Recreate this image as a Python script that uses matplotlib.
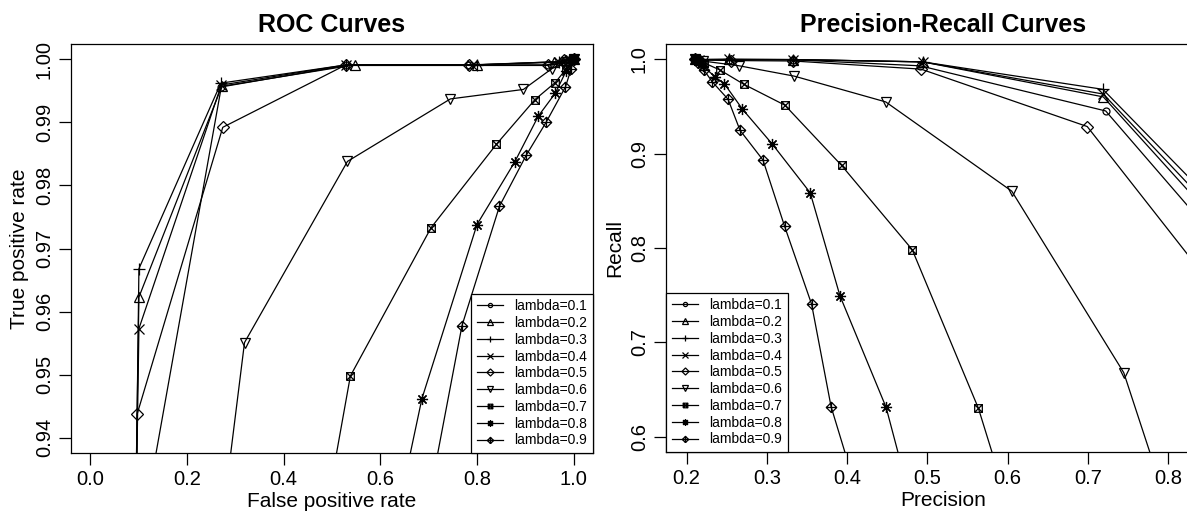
import matplotlib
matplotlib.use("Agg")
import matplotlib.pyplot as plt
from matplotlib.path import Path

plt.rcParams['font.family'] = ['Liberation Sans', 'DejaVu Sans']

labels = ['lambda=0.1', 'lambda=0.2', 'lambda=0.3', 'lambda=0.4', 'lambda=0.5',
          'lambda=0.6', 'lambda=0.7', 'lambda=0.8', 'lambda=0.9']

# ROC: false positive rate / true positive rate per lambda
roc_fpr_1 = [0.095, 0.271, 0.529, 0.784, 0.946, 0.975, 0.990, 1.0]
roc_tpr_1 = [0.920, 0.9956, 0.9990, 0.9990, 0.9990, 0.9995, 0.9998, 1.0]
roc_fpr_2 = [0.092, 0.1005, 0.272, 0.547, 0.800, 0.960, 0.985, 1.0]
roc_tpr_2 = [0.920, 0.9623, 0.9957, 0.9991, 0.9991, 0.9995, 0.9999, 1.0]
roc_fpr_3 = [0.093, 0.1005, 0.270, 0.530, 0.800, 0.970, 0.990, 1.0]
roc_tpr_3 = [0.920, 0.9668, 0.9962, 0.9991, 0.9991, 0.9996, 0.9999, 1.0]
roc_fpr_4 = [0.093, 0.1005, 0.271, 0.530, 0.790, 0.970, 0.990, 1.0]
roc_tpr_4 = [0.920, 0.9573, 0.9959, 0.9991, 0.9991, 0.9996, 0.9999, 1.0]
roc_fpr_5 = [0.093, 0.097, 0.274, 0.529, 0.784, 0.946, 0.980, 1.0]
roc_tpr_5 = [0.920, 0.9438, 0.9892, 0.9991, 0.9991, 0.9991, 0.9998, 1.0]
roc_fpr_6 = [0.270, 0.319, 0.532, 0.745, 0.896, 0.955, 0.985, 1.0]
roc_tpr_6 = [0.925, 0.9551, 0.9838, 0.9937, 0.9952, 0.9985, 0.9995, 1.0]
roc_fpr_7 = [0.480, 0.538, 0.705, 0.840, 0.920, 0.962, 0.985, 1.0]
roc_tpr_7 = [0.925, 0.9498, 0.9733, 0.9865, 0.9936, 0.9963, 0.9985, 1.0]
roc_fpr_8 = [0.630, 0.686, 0.800, 0.878, 0.927, 0.962, 0.985, 1.0]
roc_tpr_8 = [0.926, 0.9462, 0.9738, 0.9837, 0.9910, 0.9946, 0.9982, 1.0]
roc_fpr_9 = [0.700, 0.769, 0.8465, 0.902, 0.943, 0.983, 0.995, 1.0]
roc_tpr_9 = [0.930, 0.9578, 0.9767, 0.9848, 0.9900, 0.9956, 0.9985, 1.0]

# Precision-recall per lambda
pr_prec_1 = [0.2105, 0.215, 0.253, 0.332, 0.491, 0.722, 0.90]
pr_rec_1 = [1.0, 0.9995, 0.9995, 0.9993, 0.9929, 0.9451, 0.77]
pr_prec_2 = [0.2105, 0.215, 0.253, 0.332, 0.494, 0.719, 0.90]
pr_rec_2 = [1.0, 0.9995, 0.9997, 0.9995, 0.9971, 0.960, 0.79]
pr_prec_3 = [0.2105, 0.215, 0.253, 0.332, 0.494, 0.7185, 0.90]
pr_rec_3 = [1.0, 0.9995, 0.9997, 0.9995, 0.9971, 0.968, 0.81]
pr_prec_4 = [0.2105, 0.215, 0.253, 0.332, 0.494, 0.719, 0.90]
pr_rec_4 = [1.0, 0.9995, 0.9997, 0.9995, 0.9971, 0.963, 0.80]
pr_prec_5 = [0.2105, 0.216, 0.255, 0.333, 0.492, 0.699, 0.85]
pr_rec_5 = [1.0, 0.999, 0.9985, 0.998, 0.9894, 0.9286, 0.765]
pr_prec_6 = [0.2105, 0.220, 0.265, 0.334, 0.448, 0.605, 0.7445, 0.79]
pr_rec_6 = [1.0, 0.998, 0.993, 0.982, 0.9547, 0.8602, 0.668, 0.55]
pr_prec_7 = [0.2105, 0.222, 0.242, 0.271, 0.3225, 0.393, 0.481, 0.5635, 0.60]
pr_rec_7 = [1.0, 0.996, 0.9883, 0.9735, 0.9512, 0.8875, 0.7983, 0.6302, 0.53]
pr_prec_8 = [0.2105, 0.220, 0.2355, 0.247, 0.2696, 0.307, 0.354, 0.391, 0.4485, 0.48]
pr_rec_8 = [1.0, 0.993, 0.9812, 0.974, 0.947, 0.9098, 0.8585, 0.7495, 0.6313, 0.53]
pr_prec_9 = [0.2105, 0.214, 0.222, 0.232, 0.2517, 0.2666, 0.2952, 0.3221, 0.3557, 0.380, 0.42]
pr_rec_9 = [1.0, 0.996, 0.988, 0.976, 0.9575, 0.9246, 0.8931, 0.823, 0.7406, 0.632, 0.52]

roc_fpr = [roc_fpr_1, roc_fpr_2, roc_fpr_3, roc_fpr_4, roc_fpr_5, roc_fpr_6, roc_fpr_7, roc_fpr_8, roc_fpr_9]
roc_tpr = [roc_tpr_1, roc_tpr_2, roc_tpr_3, roc_tpr_4, roc_tpr_5, roc_tpr_6, roc_tpr_7, roc_tpr_8, roc_tpr_9]
pr_prec = [pr_prec_1, pr_prec_2, pr_prec_3, pr_prec_4, pr_prec_5, pr_prec_6, pr_prec_7, pr_prec_8, pr_prec_9]
pr_rec = [pr_rec_1, pr_rec_2, pr_rec_3, pr_rec_4, pr_rec_5, pr_rec_6, pr_rec_7, pr_rec_8, pr_rec_9]

# R style pch 7 (square with x) and pch 9 (diamond with plus)
M, L = Path.MOVETO, Path.LINETO
sq_x = Path([(-1, -1), (1, -1), (1, 1), (-1, 1), (-1, -1), (-1, -1), (1, 1), (-1, 1), (1, -1)],
            [M, L, L, L, L, M, L, M, L])
dia_plus = Path([(0, -1), (1, 0), (0, 1), (-1, 0), (0, -1), (0, -1), (0, 1), (-1, 0), (1, 0)],
                [M, L, L, L, L, M, L, M, L])
markers = ['o', '^', '+', 'x', 'D', 'v', sq_x, (8, 2, 0), dia_plus]
msizes = [5, 7, 8, 6.5, 6, 7, 5.5, 8, 7.5]

fig = plt.figure(figsize=(11.87, 5.12), dpi=100)
ax1 = fig.add_axes([71 / 1187, 59 / 512, 522 / 1187, 409 / 512])
ax2 = fig.add_axes([666 / 1187, 60 / 512, 555 / 1187, 408 / 512])


def draw(ax, xs, ys):
    for i in range(9):
        ax.plot(xs[i], ys[i], color='black', lw=0.9, marker=markers[i], ms=msizes[i],
                mfc='none', mec='black', mew=0.9, label=labels[i])


draw(ax1, roc_fpr, roc_tpr)
draw(ax2, pr_prec, pr_rec)

ax1.set_xlim(-0.04, 1.04)
ax1.set_ylim(0.9376, 1.0024)
ax1.set_xticks([0.0, 0.2, 0.4, 0.6, 0.8, 1.0])
ax1.set_xticklabels(['0.0', '0.2', '0.4', '0.6', '0.8', '1.0'])
ax1.set_yticks([0.94, 0.95, 0.96, 0.97, 0.98, 0.99, 1.00])
ax1.set_yticklabels(['0.94', '0.95', '0.96', '0.97', '0.98', '0.99', '1.00'])
ax1.set_xlabel('False positive rate', fontsize=15, labelpad=2)
ax1.set_ylabel('True positive rate', fontsize=15, labelpad=4)
ax1.set_title('ROC Curves', fontsize=18, fontweight='bold', pad=9)

ax2.set_xlim(0.1744, 0.8656)
ax2.set_ylim(0.584, 1.016)
ax2.set_xticks([0.2, 0.3, 0.4, 0.5, 0.6, 0.7, 0.8])
ax2.set_xticklabels(['0.2', '0.3', '0.4', '0.5', '0.6', '0.7', '0.8'])
ax2.set_yticks([0.6, 0.7, 0.8, 0.9, 1.0])
ax2.set_yticklabels(['0.6', '0.7', '0.8', '0.9', '1.0'])
ax2.set_xlabel('Precision', fontsize=15, labelpad=2)
ax2.set_ylabel('Recall', fontsize=15, labelpad=4)
ax2.set_title('Precision-Recall Curves', fontsize=18, fontweight='bold', pad=9)

for ax in (ax1, ax2):
    ax.tick_params(direction='out', length=8.4, width=0.9, labelsize=14.5, pad=4, colors='black')
    plt.setp(ax.get_yticklabels(), rotation=90, va='center')
    for s in ax.spines.values():
        s.set_linewidth(0.9)

leg_kw = dict(fontsize=10, frameon=True, fancybox=False, edgecolor='black', framealpha=1,
              borderaxespad=0, borderpad=0.4, labelspacing=0.2, handlelength=1.9,
              handletextpad=0.8, markerscale=0.6)
lg1 = ax1.legend(loc='lower right', **leg_kw)
lg2 = ax2.legend(loc='lower left', **leg_kw)
for lg in (lg1, lg2):
    lg.get_frame().set_linewidth(0.9)

fig.savefig('out.png', dpi=100)
